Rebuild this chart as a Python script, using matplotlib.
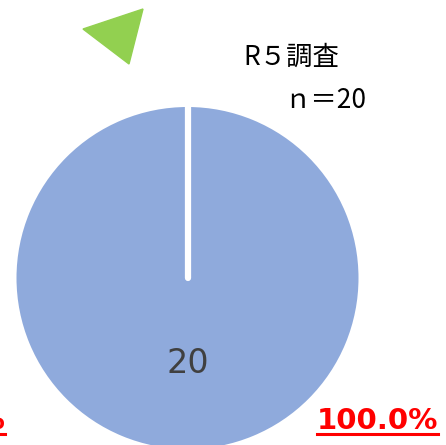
import matplotlib
matplotlib.use("Agg")
import matplotlib.pyplot as plt
from matplotlib.patches import Polygon

plt.rcParams['font.family'] = ['Noto Sans CJK JP', 'DejaVu Sans']

# data
labels = ["20"]
counts = [20]
pct_label = "100.0%"
survey_title = "R５調査"
n_label = "ｎ＝20"
colors = ["#8FAADC"]

W, H = 446, 445
fig = plt.figure(figsize=(W / 100, H / 100), dpi=100)
ax = fig.add_axes([0, 0, 1, 1])

# pie (center/radius in pixel space, y flipped)
cx, cy, r = 187.5, H - 278, 171
wedges, texts = ax.pie(counts, labels=labels, colors=colors, startangle=90,
                       counterclock=False, center=(cx, cy), radius=r,
                       labeldistance=0.5, frame=True,
                       textprops=dict(fontsize=24, color="#404040"))
ax.set_xlim(0, W)
ax.set_ylim(0, H)
ax.set_aspect("equal")
ax.axis("off")
for t in texts:
    t.set_ha("center")
    t.set_va("center")
    t.set_family(["DejaVu Sans"])

# white slice border from centre to top
ax.plot([cx, cx], [cy, cy + r], color="white", lw=4.5,
        solid_capstyle="round", zorder=3)

# green marker triangle
ax.add_patch(Polygon([(83, H - 29), (143, H - 9), (129, H - 64)],
                     closed=True, color="#92D050", zorder=3))

ax.text(243, H - 57, survey_title, fontsize=19, color="black",
        ha="left", va="center")
ax.text(366, H - 100, n_label, fontsize=19, color="black",
        ha="right", va="center")

# percentage labels (red, bold, underlined)
p1 = ax.text(438, H - 421, pct_label, fontsize=21, color="#FF0000",
             fontweight="bold", ha="right", va="center",
             family=["DejaVu Sans"])
p2 = ax.text(5, H - 421, "0.0%", fontsize=21, color="#FF0000",
             fontweight="bold", ha="right", va="center",
             family=["DejaVu Sans"])

fig.canvas.draw()
inv = ax.transData.inverted()
for t in (p1, p2):
    bb = t.get_window_extent()
    (x0, y0), (x1, y1) = inv.transform([(bb.x0, bb.y0), (bb.x1, bb.y1)])
    ax.plot([x0, x1], [y0 + 1, y0 + 1], color="#FF0000", lw=2.2, zorder=4)

fig.savefig("out.png", dpi=100)
